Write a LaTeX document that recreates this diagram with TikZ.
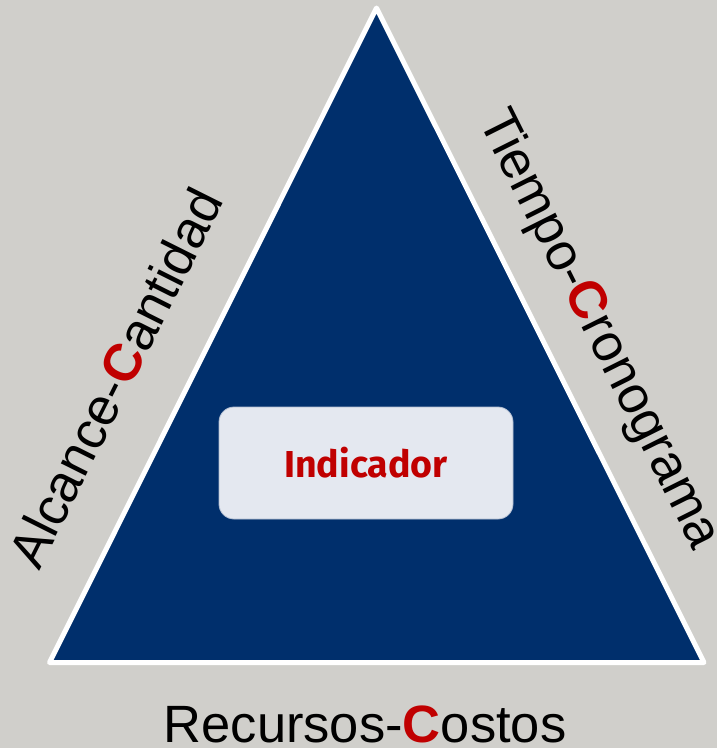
\documentclass[tikz,border=0pt]{standalone}
\usepackage{fontspec}
\setmainfont{Liberation Sans}
\newfontfamily\indfont{Fira Sans}
\definecolor{bg}{HTML}{D0CFCB}
\definecolor{navy}{HTML}{002F6C}
\definecolor{cred}{HTML}{C00000}
\definecolor{boxfill}{HTML}{E4E8F0}
\definecolor{boxline}{HTML}{B0BCD0}
\tikzset{
  sidelabel/.style={text=black, inner sep=0pt, font=\fontsize{52.5}{60}\selectfont},
  indbox/.style={draw=boxline, line width=0.8pt, fill=boxfill, rounded corners=15pt,
    minimum width=294pt, minimum height=112pt, inner sep=0pt,
    text=cred, font=\indfont\bfseries\fontsize{37.5}{44}\selectfont},
  tri/.style={draw=white, line width=5pt, line join=round, fill=navy}
}
\newcommand{\redC}{\textbf{\textcolor{cred}{C}}}
\begin{document}
\begin{tikzpicture}[x=1pt,y=-1pt]
\fill[bg] (0,0) rectangle (717,748);
\useasboundingbox (0,0) rectangle (717,748);
\coordinate (apex) at (376.5,8);
\coordinate (br) at (704,662.5);
\coordinate (bl) at (49.5,662.5);
\draw[tri] (apex) -- (br) -- (bl) -- cycle;
\node[indbox] (ind) at (366,463) {\raisebox{-2pt}{Indicador}};
\node[sidelabel, rotate=63.4, anchor=base] (alc) at (132,386) {Alcance-\redC antidad};
\node[sidelabel, rotate=-63.4, anchor=base] (tie) at (586,336) {Tiempo-\redC ronograma};
\node[sidelabel, anchor=base] (rec) at (365,742.5) {Recursos-\redC ostos};
\end{tikzpicture}
\end{document}
